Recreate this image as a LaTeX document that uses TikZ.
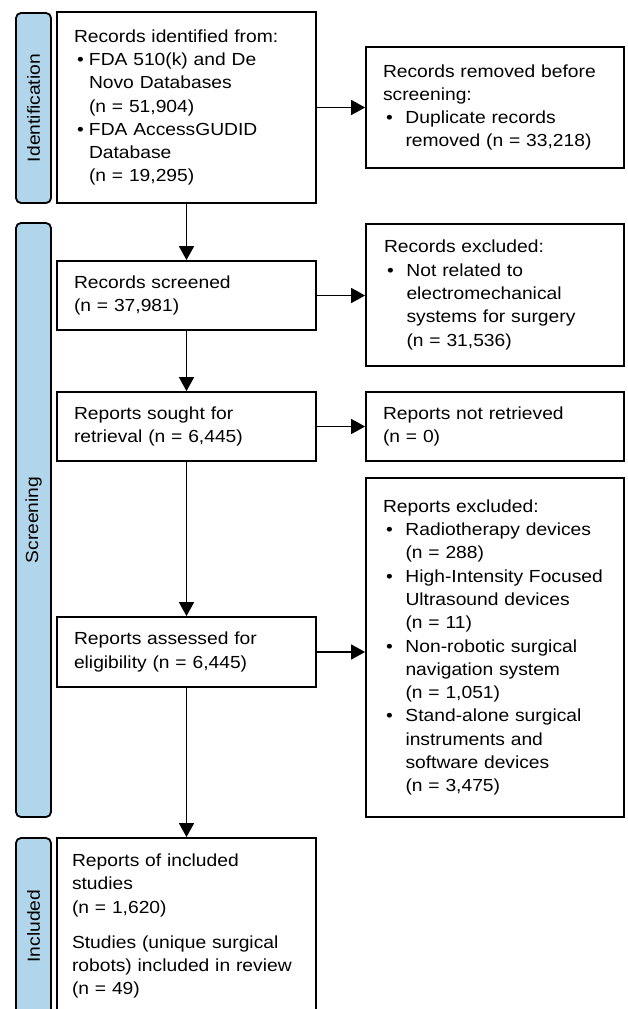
\documentclass[tikz,border=0pt]{standalone}
\usepackage{fontspec}
\setmainfont{Liberation Sans}[FakeStretch=1.1]
\usetikzlibrary{arrows.meta}
\definecolor{barblue}{RGB}{177,213,234}
\hyphenpenalty=10000
\exhyphenpenalty=10000
\hfuzz=40pt
\newcommand{\bul}[1][15pt]{\par\noindent\hangindent=#1\hangafter=1\makebox[#1][l]{\hspace{3pt}\textbullet}}

\begin{document}
\begin{tikzpicture}[x=1pt,y=-1pt,
    box/.style={draw,line width=1.8pt,inner sep=0pt,execute at begin node={\raggedright},font=\fontsize{17.5}{23.3}\selectfont},
    bar/.style={draw,line width=1.8pt,fill=barblue,rounded corners=5pt,rotate=90,minimum height=35pt,inner sep=0pt,font=\fontsize{17.5}{23.3}\selectfont},
    arr/.style={line width=1.6pt,-{Triangle[width=15pt,length=14pt]}}]
                 \useasboundingbox (0,0) rectangle (627,1009);
                 \clip (0,0) rectangle (627,1009);
                 \node[bar,minimum width=190pt](barid)at(33.5,108){Identification};
                 \node[bar,minimum width=594pt](barscr)at(33.5,520){Screening};
                 \node[bar,minimum width=176pt](barinc)at(33.5,926){Included};
                 \node[box,minimum width=259pt,minimum height=191pt,text width=225pt](ident)at(186.5,107.5){Records identified from:\bul FDA 510(k) and De\newline Novo Databases\newline (n = 51,904)\bul FDA AccessGUDID\newline Database\newline (n = 19,295)\par};
                 \node[box,minimum width=258pt,minimum height=121pt,text width=224pt](removed)at(495,107.5){Records removed before\newline screening:\bul[22.5pt]Duplicate records\newline removed (n = 33,218)\par};
                 \node[box,minimum width=259pt,minimum height=69pt,text width=225pt](screened)at(186.5,295.5){Records screened\newline (n = 37,981)\par};
                 \node[box,minimum width=258pt,minimum height=142pt,text width=222pt](excluded)at(495,295){Records excluded:\bul[22.5pt]Not related to\newline electromechanical\newline systems for surgery\newline (n = 31,536)\par};
                 \node[box,minimum width=259pt,minimum height=69pt,text width=225pt](sought)at(186.5,426.5){Reports sought for\newline retrieval (n = 6,445)\par};
                 \node[box,minimum width=258pt,minimum height=69pt,text width=224pt](notret)at(495,426.5){Reports not retrieved\newline (n = 0)\par};
                 \node[box,minimum width=259pt,minimum height=70pt,text width=225pt](assessed)at(186.5,652){Reports assessed for\newline eligibility (n = 6,445)\par};
                 \node[box,minimum width=258pt,minimum height=339pt,text width=224pt](repexcl)at(495,647.5){Reports excluded:\bul[22.5pt]Radiotherapy~devices\newline (n = 288)\bul[22.5pt]High-Intensity~Focused\newline Ultrasound devices\newline (n = 11)\bul[22.5pt]Non-robotic~surgical\newline navigation system\newline (n = 1,051)\bul[22.5pt]Stand-alone~surgical\newline instruments and\newline software devices\newline (n = 3,475)\par};
                 \node[box,minimum width=259pt,minimum height=176pt,text width=229pt](included)at(186.5,926){Reports of included\newline studies\newline (n = 1,620)\par\vspace{11.7pt}Studies (unique surgical\newline robots) included in review\newline (n = 49)\par};
                 \draw[arr](ident)--(screened);
                 \draw[arr](screened)--(sought);
                 \draw[arr](sought)--(assessed);
                 \draw[arr](assessed)--(included);
                 \draw[arr](ident)--(removed);
                 \draw[arr](screened.east)--(excluded.west|-screened.east);
                 \draw[arr](sought)--(notret);
                 \draw[arr](assessed.east)--(repexcl.west|-assessed.east);
               \end{tikzpicture}
\end{document}
